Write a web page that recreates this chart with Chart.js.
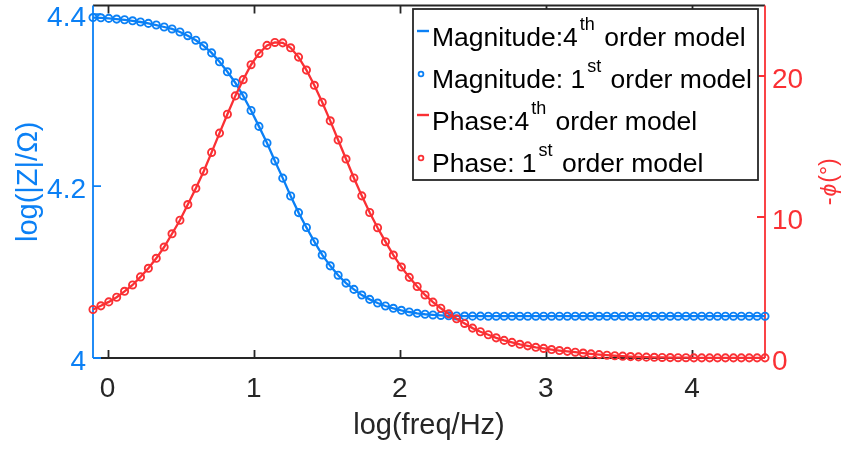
<!DOCTYPE html>
<html><head><meta charset="utf-8">
<script src="https://cdn.jsdelivr.net/npm/chart.js@4.4.1/dist/chart.umd.min.js"></script>
<style>html,body{margin:0;padding:0;background:#fff;}canvas{display:block;}</style>
</head><body>
<canvas id="c" width="845" height="450"></canvas>
<script>
// ---- data ----
const logFreq = [-0.100,-0.046,0.008,0.062,0.116,0.171,0.225,0.279,0.333,0.387,
 0.441,0.495,0.549,0.604,0.658,0.712,0.766,0.820,0.874,0.928,
 0.982,1.036,1.091,1.145,1.199,1.253,1.307,1.361,1.415,1.469,
 1.524,1.578,1.632,1.686,1.740,1.794,1.848,1.902,1.956,2.011,
 2.065,2.119,2.173,2.227,2.281,2.335,2.389,2.444,2.498,2.552,
 2.606,2.660,2.714,2.768,2.822,2.876,2.931,2.985,3.039,3.093,
 3.147,3.201,3.255,3.309,3.364,3.418,3.472,3.526,3.580,3.634,
 3.688,3.742,3.796,3.851,3.905,3.959,4.013,4.067,4.121,4.175,
 4.229,4.284,4.338,4.392,4.446,4.500];

const magnitude4th = [4.3960,4.3957,4.3950,4.3942,4.3934,4.3922,4.3908,4.3892,4.3873,4.3850,
 4.3827,4.3792,4.3749,4.3696,4.3630,4.3549,4.3445,4.3329,4.3202,4.3049,
 4.2879,4.2694,4.2501,4.2292,4.2092,4.1884,4.1691,4.1518,4.1353,4.1199,
 4.1072,4.0963,4.0871,4.0798,4.0732,4.0682,4.0639,4.0605,4.0578,4.0555,
 4.0535,4.0520,4.0509,4.0501,4.0495,4.0491,4.0489,4.0488,4.0487,4.0487,
 4.0486,4.0486,4.0486,4.0486,4.0486,4.0486,4.0486,4.0486,4.0486,4.0486,
 4.0486,4.0486,4.0486,4.0486,4.0486,4.0486,4.0486,4.0486,4.0486,4.0486,
 4.0486,4.0486,4.0486,4.0486,4.0486,4.0486,4.0486,4.0486,4.0486,4.0486,
 4.0486,4.0486,4.0486,4.0486,4.0486,4.0486];
const magnitude1st = magnitude4th;

const phase4th = [3.44,3.70,3.98,4.31,4.73,5.18,5.75,6.36,7.07,7.87,
 8.81,9.77,10.88,12.04,13.25,14.58,15.95,17.29,18.59,19.74,
 20.80,21.60,22.17,22.38,22.35,22.00,21.34,20.42,19.34,18.14,
 16.82,15.46,14.11,12.77,11.50,10.32,9.24,8.25,7.30,6.45,
 5.72,5.07,4.47,3.96,3.53,3.13,2.78,2.45,2.12,1.86,
 1.65,1.43,1.25,1.11,0.97,0.86,0.76,0.68,0.60,0.53,
 0.47,0.41,0.35,0.29,0.24,0.20,0.16,0.13,0.10,0.08,
 0.06,0.05,0.04,0.03,0.02,0.02,0.01,0.01,0.01,0.01,
 0.01,0.01,0.01,0.01,0.01,0.01];
const phase1st = phase4th;

const xTicks = [0, 1, 2, 3, 4];
const magTicks = [4, 4.2, 4.4];
const phaseTicks = [0, 10, 20];
const legendLabels = [
  ["Magnitude:4", "th", " order model"],
  ["Magnitude: 1", "st", " order model"],
  ["Phase:4", "th", " order model"],
  ["Phase: 1", "st", " order model"]
];
const xTitle = "log(freq/Hz)";
const leftTitle = "log(|Z|/\u03A9)";
const rightTitleParts = ["-", "\u03D5", "(\u00B0)"];

// ---- styles ----
const BLUE = '#0b80f5';
const RED = '#fa3034';
const AXIS = '#262626';
const FONT = '"Liberation Sans", Arial, Helvetica, sans-serif';

const toPts = (ys) => logFreq.map((x, i) => ({ x: x, y: ys[i] }));

const framePlugin = {
  id: 'frame',
  beforeDatasetsDraw(chart) {
    const ctx = chart.ctx, a = chart.chartArea;
    const sx = chart.scales.x, sl = chart.scales.y, sr = chart.scales.y1;
    ctx.save();
    ctx.lineWidth = 1.8;
    ctx.strokeStyle = AXIS;
    ctx.beginPath();
    ctx.moveTo(a.left, a.top); ctx.lineTo(a.right, a.top);
    ctx.moveTo(a.left, a.bottom); ctx.lineTo(a.right, a.bottom);
    xTicks.forEach(v => {
      const px = Math.round(sx.getPixelForValue(v)) + 0.5;
      ctx.moveTo(px, a.top); ctx.lineTo(px, a.top + 8);
      ctx.moveTo(px, a.bottom); ctx.lineTo(px, a.bottom - 8);
    });
    ctx.stroke();
    ctx.strokeStyle = BLUE;
    ctx.beginPath();
    ctx.moveTo(a.left, a.top); ctx.lineTo(a.left, a.bottom);
    magTicks.forEach(v => {
      const py = sl.getPixelForValue(v);
      ctx.moveTo(a.left, py); ctx.lineTo(a.left + 8, py);
    });
    ctx.stroke();
    ctx.strokeStyle = RED;
    ctx.beginPath();
    ctx.moveTo(a.right, a.top); ctx.lineTo(a.right, a.bottom);
    phaseTicks.forEach(v => {
      const py = sr.getPixelForValue(v);
      ctx.moveTo(a.right, py); ctx.lineTo(a.right - 8, py);
    });
    ctx.stroke();
    ctx.restore();
  },
  afterDraw(chart) {
    const ctx = chart.ctx, a = chart.chartArea;
    const sx = chart.scales.x, sl = chart.scales.y, sr = chart.scales.y1;
    ctx.save();
    ctx.textBaseline = 'alphabetic';
    // tick labels
    ctx.font = '28px ' + FONT;
    ctx.fillStyle = AXIS; ctx.textAlign = 'center';
    xTicks.forEach(v => ctx.fillText(String(v), sx.getPixelForValue(v), a.bottom + 39));
    ctx.fillStyle = BLUE; ctx.textAlign = 'right';
    magTicks.forEach(v => ctx.fillText(v === 4 ? '4' : v.toFixed(1), a.left - 7, sl.getPixelForValue(v) + 12));
    ctx.fillStyle = RED; ctx.textAlign = 'left';
    phaseTicks.forEach(v => ctx.fillText(String(v), a.right + 7, sr.getPixelForValue(v) + 12));
    // axis titles
    ctx.font = '29px ' + FONT;
    ctx.fillStyle = AXIS; ctx.textAlign = 'center';
    ctx.fillText(xTitle, (a.left + a.right) / 2, 434);
    const cy = (a.top + a.bottom) / 2;
    ctx.save();
    ctx.translate(37, cy); ctx.rotate(-Math.PI / 2);
    ctx.fillStyle = BLUE; ctx.fillText(leftTitle, 0, 0);
    ctx.restore();
    ctx.save();
    ctx.translate(836, cy); ctx.rotate(-Math.PI / 2);
    ctx.fillStyle = RED; ctx.textAlign = 'left';
    const fN = '23px ' + FONT, fI = 'italic 23px ' + FONT;
    ctx.font = fN; const w0 = ctx.measureText(rightTitleParts[0]).width;
    ctx.font = fI; const w1 = ctx.measureText(rightTitleParts[1]).width;
    ctx.font = fN; const w2 = ctx.measureText(rightTitleParts[2]).width;
    let x0 = -(w0 + w1 + w2 + 2) / 2;
    ctx.font = fN; ctx.fillText(rightTitleParts[0], x0, 0); x0 += w0 + 1;
    ctx.font = fI; ctx.fillText(rightTitleParts[1], x0, 0); x0 += w1 + 1;
    ctx.font = fN; ctx.fillText(rightTitleParts[2], x0, 0);
    ctx.restore();
    // legend
    const bx = 413, by = 9, bw = 345, bh = 171;
    ctx.fillStyle = '#fff'; ctx.fillRect(bx, by, bw, bh);
    ctx.strokeStyle = AXIS; ctx.lineWidth = 1.8; ctx.strokeRect(bx, by, bw, bh);
    const ds = chart.data.datasets;
    ctx.textAlign = 'left';
    legendLabels.forEach((parts, i) => {
      const B = by + 37 + i * 42;
      const d = ds[i];
      if (d.showLine) {
        ctx.strokeStyle = d.borderColor; ctx.lineWidth = 2.4;
        ctx.beginPath(); ctx.moveTo(bx + 4, B - 15); ctx.lineTo(bx + 16, B - 15); ctx.stroke();
      } else {
        ctx.strokeStyle = d.pointBorderColor; ctx.lineWidth = 1.8;
        ctx.beginPath(); ctx.arc(bx + 8, B - 14, 2.4, 0, Math.PI * 2); ctx.stroke();
      }
      let tx = bx + 19;
      ctx.fillStyle = '#000';
      ctx.font = '26.5px ' + FONT;
      ctx.fillText(parts[0], tx, B); tx += ctx.measureText(parts[0]).width + 2;
      ctx.font = '18px ' + FONT;
      ctx.fillText(parts[1], tx, B - 16); tx += ctx.measureText(parts[1]).width + 2;
      ctx.font = '26.5px ' + FONT;
      ctx.fillText(parts[2], tx, B);
    });
    ctx.restore();
  }
};

const lineStyle = (data, color) => ({
  data: data, showLine: true, borderColor: color, borderWidth: 2.3,
  pointRadius: 0, pointHoverRadius: 0, clip: false, tension: 0, fill: false
});
const dotStyle = (data, color) => ({
  data: data, showLine: false, borderColor: color, pointBorderColor: color,
  pointBackgroundColor: 'rgba(255,255,255,0)', pointBorderWidth: 1.9,
  pointRadius: 3.6, pointHoverRadius: 3.6, clip: false, fill: false
});

new Chart(document.getElementById('c'), {
  type: 'scatter',
  data: {
    datasets: [
      Object.assign(lineStyle(toPts(magnitude4th), BLUE), { label: 'Magnitude:4th order model', yAxisID: 'y', order: 3 }),
      Object.assign(dotStyle(toPts(magnitude1st), BLUE), { label: 'Magnitude: 1st order model', yAxisID: 'y', order: 2 }),
      Object.assign(lineStyle(toPts(phase4th), RED), { label: 'Phase:4th order model', yAxisID: 'y1', order: 1 }),
      Object.assign(dotStyle(toPts(phase1st), RED), { label: 'Phase: 1st order model', yAxisID: 'y1', order: 0 })
    ]
  },
  options: {
    responsive: false, animation: false, devicePixelRatio: 1,
    layout: { padding: { top: 4, left: 0, right: 0, bottom: 0 } },
    plugins: { legend: { display: false }, tooltip: { enabled: false } },
    scales: {
      x: {
        type: 'linear', position: 'bottom', min: -0.1, max: 4.5,
        grid: { display: false }, border: { display: false },
        ticks: { display: false },
        afterBuildTicks: s => { s.ticks = xTicks.map(v => ({ value: v })); },
        afterFit: s => { s.height = 92; s.paddingLeft = 0; s.paddingRight = 0; }
      },
      y: {
        type: 'linear', position: 'left', min: 4, max: 4.41,
        grid: { display: false }, border: { display: false },
        ticks: { display: false },
        afterBuildTicks: s => { s.ticks = magTicks.map(v => ({ value: v })); },
        afterFit: s => { s.width = 93; s.paddingTop = 0; s.paddingBottom = 0; }
      },
      y1: {
        type: 'linear', position: 'right', min: 0, max: 25,
        grid: { display: false }, border: { display: false },
        ticks: { display: false },
        afterBuildTicks: s => { s.ticks = phaseTicks.map(v => ({ value: v })); },
        afterFit: s => { s.width = 80; s.paddingTop = 0; s.paddingBottom = 0; }
      }
    }
  },
  plugins: [framePlugin]
});
</script>
</body></html>
